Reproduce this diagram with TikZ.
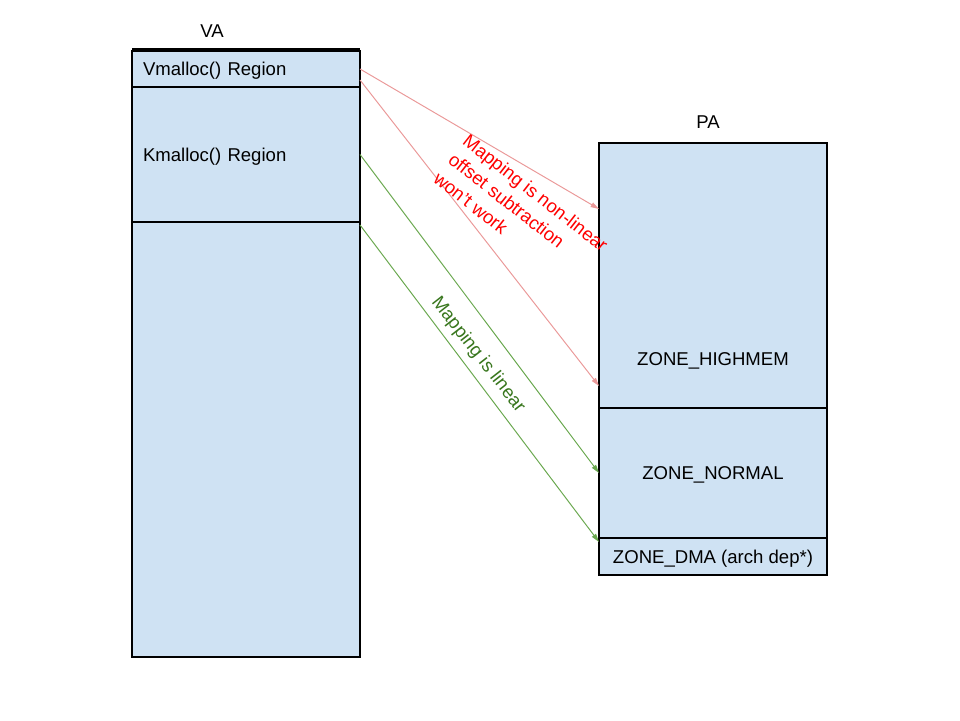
\documentclass[tikz,border=0pt]{standalone}
\usepackage{fontspec}
\setmainfont{Liberation Sans}
\usetikzlibrary{arrows.meta}
\definecolor{regionblue}{HTML}{CFE2F3}
\definecolor{redline}{HTML}{EA9999}
\definecolor{greenline}{HTML}{6AA84F}
\definecolor{greentext}{HTML}{38761D}

\begin{document}
\begin{tikzpicture}[every node/.style={outer sep=0pt, font=\fontsize{13.2}{17}\selectfont},
  region/.style={draw=black, fill=regionblue, line width=0.9pt, minimum width=5.7cm, inner sep=0pt, text height=0.98em, text depth=0pt},
  leftregion/.style={region, inner xsep=0.275cm, text width=5.15cm, align=left},
  redmap/.style={draw=redline, line width=0.7pt, -{Triangle[length=6pt,width=3.5pt]}},
  greenmap/.style={draw=greenline, line width=0.7pt, -{Triangle[length=6pt,width=3.5pt]}}]
\useasboundingbox (0,0) rectangle (24,18);

\node (va) at (5.3,17.225) {VA};
\node[leftregion, minimum height=0.9cm] (vmalloc) at (6.15,16.275) {Vmalloc() Region};
\node[leftregion, minimum height=3.375cm] (kmalloc) at (6.15,14.1375) {Kmalloc() Region};
\node[region, minimum height=10.875cm] (lowmem) at (6.15,7.0125) {};
\draw[line width=0.9pt] ([yshift=1.4pt]vmalloc.north west) -- ([yshift=1.4pt]vmalloc.north east);

\node (pa) at (17.7,14.95) {PA};
\node[region, minimum height=6.625cm] (highmem) at (17.825,11.1125) {};
\node (highmemtext) at (17.825,8.99) {ZONE\_HIGHMEM};
\node[region, minimum height=3.25cm] (normal) at (17.825,6.175) {ZONE\_NORMAL};
\node[region, minimum height=0.925cm] (dma) at (17.825,4.0875) {ZONE\_DMA (arch dep*)};

\draw[redmap] (vmalloc.east) -- ([yshift=-1.65cm]highmem.north west);
\draw[redmap] ([yshift=-0.275cm]vmalloc.east) -- ([yshift=-6.075cm]highmem.north west);
\draw[greenmap] (kmalloc.east) -- (normal.west);
\draw[greenmap] ([yshift=-0.075cm]lowmem.north east) -- ([yshift=-0.1cm]dma.north west);

\node[anchor=north west, inner sep=0pt, rotate=-38, align=left, text=red] (nonlinear) at (11.75,14.675) {Mapping is non-linear\\offset subtraction\\won't work};
\node[rotate=-52, text=greentext] (linear) at (11.95,9.125) {Mapping is linear};
\end{tikzpicture}
\end{document}
